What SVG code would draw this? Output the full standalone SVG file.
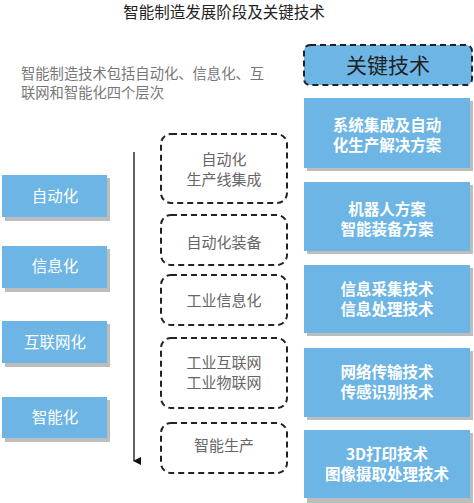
<svg xmlns="http://www.w3.org/2000/svg" width="474" height="503" viewBox="0 0 474 503">
<defs>
<style>
text{font-family:"Noto Sans CJK SC","Noto Sans",sans-serif;text-anchor:middle}
.title{font-size:15.5px;fill:#222}
.desc{font-size:14.3px;fill:#777;text-anchor:start}
.blue{fill:#6cb5e5}
.shadow{fill:#bdbdbd}
.lbl{font-size:15.5px;fill:#ffffff}
.rlbl{font-size:15.5px;fill:#ffffff;font-weight:bold}
.dash{fill:#ffffff;stroke:#222;stroke-width:2;stroke-dasharray:6,4}
.mlbl{font-size:15px;fill:#666}
</style>
<marker id="ah" markerWidth="10" markerHeight="10" refX="5" refY="8" orient="auto" markerUnits="userSpaceOnUse">
<path d="M1,1 L5,9 L9,1 Z" fill="#111"/>
</marker>
</defs>
<text class="title" x="224" y="18">智能制造发展阶段及关键技术</text>
<text class="desc" x="21" y="79">智能制造技术包括自动化、信息化、互</text>
<text class="desc" x="21" y="98">联网和智能化四个层次</text>

<g id="connectors">
<line x1="134" y1="152" x2="134" y2="461" stroke="#111" stroke-width="1.3" marker-end="url(#ah)"/>
</g>

<g id="left-1"><rect class="shadow" x="5" y="178" width="105" height="43"/><rect class="blue" x="2" y="175" width="105" height="42"/><text class="lbl" x="55" y="202">自动化</text></g>
<g id="left-2"><rect class="shadow" x="5" y="249" width="105" height="43"/><rect class="blue" x="2" y="246" width="105" height="42"/><text class="lbl" x="55" y="272">信息化</text></g>
<g id="left-3"><rect class="shadow" x="5" y="324" width="105" height="43"/><rect class="blue" x="2" y="321" width="105" height="42"/><text class="lbl" x="55" y="348">互联网化</text></g>
<g id="left-4"><rect class="shadow" x="5" y="400" width="105" height="42"/><rect class="blue" x="2" y="397" width="105" height="41"/><text class="lbl" x="55" y="423">智能化</text></g>

<g id="mid-1"><rect class="dash" x="161" y="134" width="126" height="69" rx="10"/><text class="mlbl" x="224" y="165">自动化</text><text class="mlbl" x="224" y="185">生产线集成</text></g>
<g id="mid-2"><rect class="dash" x="161" y="215" width="126" height="50" rx="10"/><text class="mlbl" x="224" y="248">自动化装备</text></g>
<g id="mid-3"><rect class="dash" x="161" y="275" width="126" height="50" rx="10"/><text class="mlbl" x="224" y="306">工业信息化</text></g>
<g id="mid-4"><rect class="dash" x="161" y="338" width="126" height="70" rx="10"/><text class="mlbl" x="224" y="368">工业互联网</text><text class="mlbl" x="224" y="388">工业物联网</text></g>
<g id="mid-5"><rect class="dash" x="161" y="423" width="126" height="50" rx="10"/><text class="mlbl" x="224" y="451">智能生产</text></g>

<g id="key-header"><rect x="304" y="45" width="168" height="40" rx="6" fill="#6cb5e5" stroke="#222" stroke-width="2" stroke-dasharray="6,4"/><text x="388" y="73" style="font-size:21px;fill:#222">关键技术</text></g>

<g id="right-1"><rect class="shadow" x="307" y="101" width="166" height="70"/><rect class="blue" x="304" y="98" width="166" height="70"/><text class="rlbl" x="387" y="131">系统集成及自动</text><text class="rlbl" x="387" y="151">化生产解决方案</text></g>
<g id="right-2"><rect class="shadow" x="307" y="185" width="166" height="69"/><rect class="blue" x="304" y="182" width="166" height="69"/><text class="rlbl" x="387" y="215">机器人方案</text><text class="rlbl" x="387" y="235">智能装备方案</text></g>
<g id="right-3"><rect class="shadow" x="307" y="268" width="166" height="68"/><rect class="blue" x="304" y="265" width="166" height="68"/><text class="rlbl" x="387" y="295">信息采集技术</text><text class="rlbl" x="387" y="315">信息处理技术</text></g>
<g id="right-4"><rect class="shadow" x="307" y="351" width="166" height="69"/><rect class="blue" x="304" y="348" width="166" height="69"/><text class="rlbl" x="387" y="378">网络传输技术</text><text class="rlbl" x="387" y="398">传感识别技术</text></g>
<g id="right-5"><rect class="shadow" x="307" y="433" width="166" height="70"/><rect class="blue" x="304" y="430" width="166" height="68"/><text class="rlbl" x="387" y="460">3D打印技术</text><text class="rlbl" x="387" y="480">图像摄取处理技术</text></g>
</svg>
